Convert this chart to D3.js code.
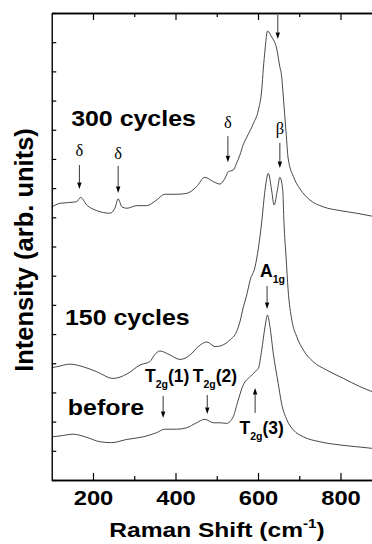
<!DOCTYPE html>
<html>
<head>
<meta charset="utf-8">
<script src="https://cdn.jsdelivr.net/npm/d3@7"></script>
<style>
  html, body { margin: 0; padding: 0; background: #fff; }
  svg { display: block; }
</style>
</head>
<body>
<div id="chart"></div>
<script>
// spectra: [Raman shift (cm-1), intensity (arb. units, offset)]
const cycles300 = [
  [100, 9.35], [120, 9.48], [160, 9.53], [170, 9.68], [185, 9.42], [209, 9.23],
  [241, 9.14], [253, 9.31], [261, 9.63], [270, 9.36], [282, 9.31], [306, 9.40],
  [330, 9.40], [354, 9.59], [374, 9.79], [403, 9.79], [427, 9.82], [451, 10.05],
  [471, 10.37], [492, 10.22], [508, 10.14], [520, 10.34], [528, 10.56], [540, 10.62],
  [548, 10.85], [556, 11.13], [564, 11.48], [573, 11.75], [589, 12.22], [601, 12.68],
  [609, 13.36], [613, 14.11], [617, 14.73], [623, 15.38], [633, 15.18], [645, 14.80],
  [653, 14.15], [657, 13.87], [661, 13.19], [668, 11.92], [673, 11.03], [686, 10.39],
  [702, 9.97], [726, 9.59], [758, 9.36], [799, 9.23], [839, 9.14], [880, 9.03]
];
const cycles150 = [
  [100, 3.85], [112, 3.88], [144, 3.97], [176, 3.88], [209, 3.71], [249, 3.48],
  [282, 3.63], [314, 3.94], [338, 4.06], [350, 4.30], [362, 4.42], [387, 4.28],
  [411, 4.13], [435, 4.28], [455, 4.57], [476, 4.73], [496, 4.57], [508, 4.59],
  [532, 4.80], [548, 5.08], [556, 5.41], [564, 5.90], [572, 6.30], [581, 6.85],
  [593, 7.31], [601, 7.95], [609, 8.84], [617, 9.93], [625, 10.51], [633, 9.93],
  [639, 9.42], [647, 9.93], [653, 10.37], [660, 9.93], [663, 8.80], [668, 7.65],
  [673, 6.51], [682, 5.48], [694, 4.91], [710, 4.45], [734, 4.05], [766, 3.77],
  [807, 3.48], [847, 3.20], [880, 3.01]
];
const before = [
  [100, 1.48], [120, 1.51], [152, 1.57], [185, 1.46], [217, 1.31], [245, 1.28],
  [282, 1.39], [322, 1.48], [354, 1.62], [374, 1.74], [403, 1.74], [427, 1.79],
  [451, 1.96], [471, 2.08], [492, 1.96], [508, 1.96], [524, 1.94], [540, 2.17],
  [552, 2.74], [564, 3.25], [581, 3.54], [593, 3.71], [601, 3.83], [609, 4.45],
  [617, 5.25], [623, 5.65], [629, 5.25], [637, 4.34], [649, 3.31], [657, 2.63],
  [670, 2.06], [686, 1.71], [710, 1.48], [750, 1.31], [799, 1.20], [839, 1.14],
  [880, 1.08]
];
const spectra = [cycles300, cycles150, before];

const majorTicks = [200, 400, 600, 800];
const minorTicks = [300, 500, 700];
const yTicks = d3.range(0, 17);

// sample names
const sampleLabels = [
  { text: '300 cycles', x: 147, y: 12.13 },
  { text: '150 cycles', x: 132, y: 5.31 },
  { text: 'before', x: 139, y: 2.23 }
];
// greek phase markers
const greekLabels = [
  { text: 'δ', x: 167, y: 11.10 },
  { text: 'δ', x: 261, y: 11.00 },
  { text: 'δ', x: 527, y: 12.06 },
  { text: 'β', x: 653, y: 11.85 }
];
// mode labels: main letter + subscript + tail
const modeLabels = [
  { main: 'A', sub: '1g', tail: '', x: 605, y: 6.95 },
  { main: 'T', sub: '2g', tail: '(1)', x: 326, y: 3.36 },
  { main: 'T', sub: '2g', tail: '(2)', x: 442, y: 3.36 },
  { main: 'T', sub: '2g', tail: '(3)', x: 555, y: 1.58 }
];
// arrows: x, from, to (tip)
const arrows = [
  { x: 648, from: 15.93, to: 15.11 },
  { x: 167, from: 10.79, to: 9.97 },
  { x: 261, from: 10.76, to: 9.83 },
  { x: 527, from: 11.78, to: 10.89 },
  { x: 653, from: 11.55, to: 10.69 },
  { x: 622, from: 6.65, to: 5.86 },
  { x: 370, from: 2.88, to: 2.12 },
  { x: 477, from: 2.91, to: 2.26 },
  { x: 593, from: 2.30, to: 3.15 }
];

const width = 372, height = 544;
const margin = { top: 13, left: 51.75, bottom: 64 };
const sans = 'Liberation Sans, Arial, sans-serif';

const svg = d3.select('#chart').append('svg')
  .attr('width', width)
  .attr('height', height);
svg.append('rect').attr('width', width).attr('height', height).attr('fill', '#fff');

const x = d3.scaleLinear().domain([100, 880]).range([margin.left, margin.left + 780 * 0.4125]);
const y = d3.scaleLinear().domain([0, 16]).range([height - margin.bottom, margin.top]);
const y0 = y(0), y16 = y(16);

// spectra
const line = d3.line()
  .x(d => x(d[0]))
  .y(d => y(d[1]))
  .curve(d3.curveMonotoneX);

svg.selectAll('.spectrum')
  .data(spectra)
  .enter()
  .append('path')
  .attr('class', 'spectrum')
  .attr('d', line)
  .attr('fill', 'none')
  .attr('stroke', '#333')
  .attr('stroke-width', 0.9);

// axes
function styleAxis(g) {
  g.select('.domain').attr('stroke', '#000').attr('stroke-width', 1.4);
  g.selectAll('.tick line').attr('stroke', '#000').attr('stroke-width', 1.2);
}

svg.append('g')
  .attr('transform', 'translate(0,' + y0 + ')')
  .call(d3.axisBottom(x).tickValues(majorTicks).tickSize(-7).tickSizeOuter(0).tickPadding(11))
  .call(styleAxis)
  .call(g => g.selectAll('.tick text')
    .attr('font-family', sans)
    .attr('font-weight', 'bold')
    .attr('font-size', 19.5)
    .attr('transform', 'scale(1.22,1)')
    .attr('fill', '#000'));

svg.append('g')
  .attr('transform', 'translate(0,' + y0 + ')')
  .call(d3.axisBottom(x).tickValues(minorTicks).tickSize(-4).tickSizeOuter(0).tickFormat(''))
  .call(styleAxis);

svg.append('g')
  .attr('transform', 'translate(0,' + y16 + ')')
  .call(d3.axisTop(x).tickValues(majorTicks).tickSize(-7).tickSizeOuter(0).tickFormat(''))
  .call(styleAxis);

svg.append('g')
  .attr('transform', 'translate(0,' + y16 + ')')
  .call(d3.axisTop(x).tickValues(minorTicks).tickSize(-4).tickSizeOuter(0).tickFormat(''))
  .call(styleAxis);

svg.append('g')
  .attr('transform', 'translate(' + margin.left + ',0)')
  .call(d3.axisLeft(y).tickValues(yTicks).tickSize(-4.5).tickSizeOuter(0).tickFormat(''))
  .call(styleAxis);

// axis titles
const xTitle = svg.append('text')
  .attr('transform', 'translate(217,537) scale(1.17,1)')
  .attr('text-anchor', 'middle')
  .attr('font-family', sans)
  .attr('font-weight', 'bold')
  .attr('font-size', 21)
  .attr('fill', '#000');
xTitle.append('tspan').text('Raman Shift (cm');
xTitle.append('tspan').attr('font-size', 13).attr('dy', -9).text('-1');
xTitle.append('tspan').attr('dy', 9).text(')');

svg.append('text')
  .attr('transform', 'translate(33,250) rotate(-90)')
  .attr('text-anchor', 'middle')
  .attr('font-family', sans)
  .attr('font-weight', 'bold')
  .attr('font-size', 25.5)
  .attr('fill', '#000')
  .text('Intensity (arb. units)');

// sample labels
svg.selectAll('.sample')
  .data(sampleLabels)
  .enter()
  .append('text')
  .attr('class', 'sample')
  .attr('transform', d => 'translate(' + x(d.x) + ',' + y(d.y) + ') scale(1.16,1)')
  .attr('font-family', sans)
  .attr('font-weight', 'bold')
  .attr('font-size', 21.5)
  .attr('fill', '#000')
  .text(d => d.text);

// greek labels
svg.selectAll('.greek')
  .data(greekLabels)
  .enter()
  .append('text')
  .attr('class', 'greek')
  .attr('x', d => x(d.x))
  .attr('y', d => y(d.y))
  .attr('text-anchor', 'middle')
  .attr('font-family', 'Liberation Serif')
  .attr('font-size', 16.5)
  .attr('fill', '#000')
  .text(d => d.text);

// mode labels
const modes = svg.selectAll('.mode')
  .data(modeLabels)
  .enter()
  .append('text')
  .attr('class', 'mode')
  .attr('x', d => x(d.x))
  .attr('y', d => y(d.y))
  .attr('font-family', sans)
  .attr('font-weight', 'bold')
  .attr('font-size', 17.5)
  .attr('fill', '#000');
modes.append('tspan').text(d => d.main);
modes.append('tspan').attr('font-size', 10.5).attr('dy', 6).text(d => d.sub);
modes.append('tspan').attr('dy', -6).text(d => d.tail);

// arrows
svg.selectAll('.arrow')
  .data(arrows)
  .enter()
  .append('g')
  .attr('class', 'arrow')
  .each(function (d) {
    const g = d3.select(this);
    const ax = x(d.x), a0 = y(d.from), a1 = y(d.to);
    const dir = a1 > a0 ? 1 : -1;
    const headLen = 6.5, headHalf = 2.2;
    g.append('line')
      .attr('x1', ax).attr('x2', ax)
      .attr('y1', a0).attr('y2', a1 - dir * headLen)
      .attr('stroke', '#000')
      .attr('stroke-width', 0.8);
    g.append('path')
      .attr('d', 'M' + ax + ',' + a1 +
        'L' + (ax - headHalf) + ',' + (a1 - dir * headLen) +
        'L' + (ax + headHalf) + ',' + (a1 - dir * headLen) + 'Z')
      .attr('fill', '#000');
  });
</script>
</body>
</html>
